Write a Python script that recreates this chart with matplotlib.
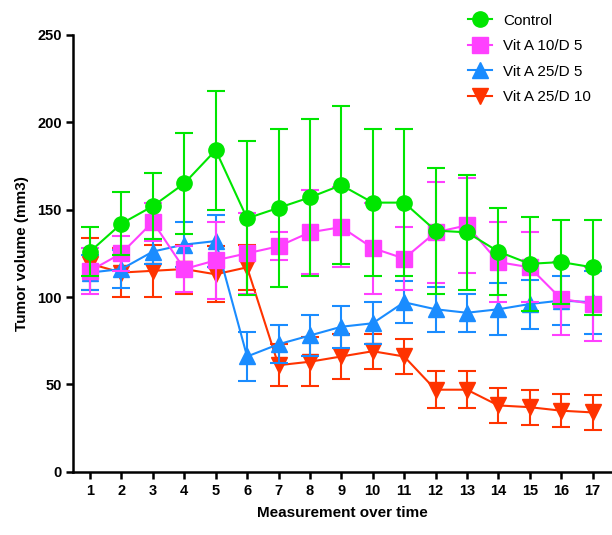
import numpy as np
import matplotlib
matplotlib.use("Agg")
import matplotlib.pyplot as plt

plt.rcParams['font.family'] = ['Liberation Sans', 'DejaVu Sans']

# measurement index
x = np.arange(1, 18)

# mean tumour volume (mm3) per group
control = [126, 142, 152, 165, 184, 145, 151, 157, 164, 154, 154, 138, 137, 126, 119, 120, 117]
control_err = [14, 18, 19, 29, 34, 44, 45, 45, 45, 42, 42, 36, 33, 25, 27, 24, 27]

vita10_d5 = [115, 125, 143, 116, 121, 125, 129, 137, 140, 128, 122, 137, 141, 120, 117, 99, 96]
vita10_d5_err = [13, 10, 11, 13, 22, 23, 8, 24, 23, 26, 18, 29, 27, 23, 20, 21, 21]

vita25_d5 = [114, 116, 126, 130, 132, 66, 73, 78, 83, 85, 97, 93, 91, 93, 96, 98, 97]
vita25_d5_err = [10, 11, 7, 13, 15, 14, 11, 12, 12, 12, 12, 13, 11, 15, 14, 14, 18]

vita25_d10 = [119, 114, 115, 116, 113, 117, 61, 63, 66, 69, 66, 47, 47, 38, 37, 35, 34]
vita25_d10_err = [15, 14, 15, 14, 16, 13, 12, 14, 13, 10, 10, 10.5, 10.5, 10, 10, 9.5, 10]

labels = ['Control', 'Vit A 10/D 5', 'Vit A 25/D 5', 'Vit A 25/D 10']
colors = ['#00E600', '#FF40FF', '#1A8CFF', '#FF3300']
markers = ['o', 's', '^', 'v']

series = [(control, control_err), (vita10_d5, vita10_d5_err),
          (vita25_d5, vita25_d5_err), (vita25_d10, vita25_d10_err)]

fig = plt.figure(figsize=(6.12, 5.35), dpi=100)
ax = fig.add_axes([0.12, 0.118, 0.88, 0.817])

handles = [None] * 4
# each group drawn as a whole, last group at the bottom, Control on top
for i in range(4):
    y, e = series[i]
    z = 2 + (3 - i) * 0.5
    ax.errorbar(x, y, yerr=e, fmt='none', ecolor=colors[i], elinewidth=1.5,
                capsize=6.5, capthick=1.5, zorder=z)
    h, = ax.plot(x, y, color=colors[i], marker=markers[i], markersize=11,
                 linewidth=1.5, label=labels[i], zorder=z + 0.2)
    handles[i] = h

ax.set_xlim(0.47, 17.62)
ax.set_ylim(0, 250)
ax.set_xticks(x)
ax.set_yticks(np.arange(0, 251, 50))
for s in ['top', 'right']:
    ax.spines[s].set_visible(False)
for s in ['left', 'bottom']:
    ax.spines[s].set_linewidth(1.8)
ax.tick_params(width=1.8, length=5, labelsize=10.5)
for lab in ax.get_xticklabels() + ax.get_yticklabels():
    lab.set_fontweight('bold')

ax.set_xlabel('Measurement over time', fontsize=11, fontweight='bold', labelpad=6)
ax.set_ylabel('Tumor volume (mm3)', fontsize=11, fontweight='bold', labelpad=6)

fig.legend(handles=handles, labels=labels, loc='upper left',
           bbox_to_anchor=(0.742, 1.0), frameon=False, fontsize=11,
           handlelength=1.6, handletextpad=0.7, labelspacing=0.75)

fig.savefig('out.png', dpi=100)
